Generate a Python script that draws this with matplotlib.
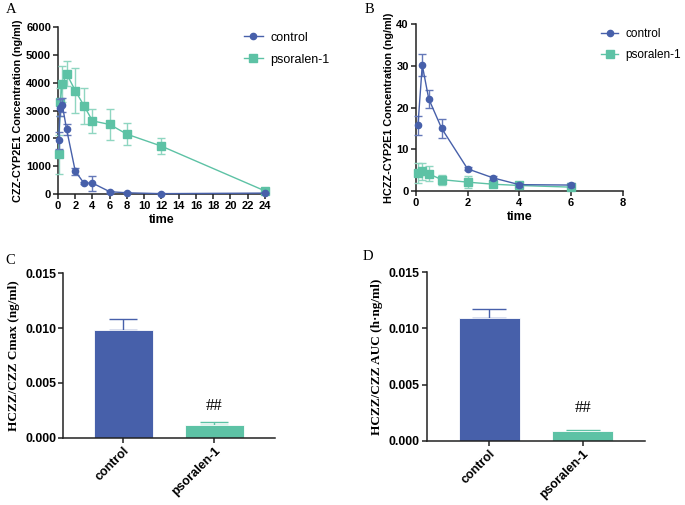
import numpy as np
import matplotlib
matplotlib.use("Agg")
import matplotlib.pyplot as plt
from matplotlib.lines import Line2D

plt.rcParams['font.family'] = ['Liberation Sans', 'DejaVu Sans']

blue = "#4760AA"
green = "#5DC2A5"

# panel A: CZZ concentration
a_time_ctrl = [0.083, 0.25, 0.5, 1, 2, 3, 4, 6, 8, 12, 24]
a_ctrl = [1930, 3100, 3200, 2320, 820, 390, 390, 80, 40, 10, 30]
a_ctrl_err = [300, 300, 250, 200, 130, 50, 270, 30, 20, 10, 10]
a_time_pso = [0.083, 0.25, 0.5, 1, 2, 3, 4, 6, 8, 12, 24]
a_pso = [1420, 3300, 3950, 4320, 3720, 3180, 2630, 2500, 2150, 1720, 110]
a_pso_err = [700, 500, 650, 450, 800, 650, 420, 550, 400, 300, 50]

# panel B: HCZZ concentration
b_time = [0.083, 0.25, 0.5, 1, 2, 3, 4, 6]
b_ctrl = [15.7, 30.2, 22.1, 15.0, 5.3, 3.1, 1.5, 1.4]
b_ctrl_err = [2.2, 2.6, 2.2, 2.2, 0.4, 0.4, 0.5, 0.4]
b_pso = [4.3, 4.7, 4.1, 2.7, 2.1, 1.6, 1.3, 0.9]
b_pso_err = [2.5, 2.0, 1.8, 1.2, 1.4, 0.5, 0.3, 0.3]

# panels C, D: ratios
groups = ["control", "psoralen-1"]
c_vals = [0.0098, 0.0012]
c_err = [0.0010, 0.0002]
d_vals = [0.0109, 0.0009]
d_err = [0.0008, 0.0001]

fig = plt.figure(figsize=(6.85, 5.05), dpi=100)
axA = fig.add_axes([0.0847, 0.616, 0.302, 0.330])
axB = fig.add_axes([0.607, 0.622, 0.302, 0.330])
axC = fig.add_axes([0.092, 0.133, 0.309, 0.326])
axD = fig.add_axes([0.623, 0.127, 0.319, 0.334])


def style(ax, size=8):
    for s in ("top", "right"):
        ax.spines[s].set_visible(False)
    for s in ("left", "bottom"):
        ax.spines[s].set_linewidth(1.1)
        ax.spines[s].set_color("#222222")
    ax.tick_params(direction="out", length=3.5, width=1.1, color="#222222", pad=1.5)
    for lab in ax.get_xticklabels() + ax.get_yticklabels():
        lab.set_fontsize(size)
        lab.set_fontweight("bold")


def curves(ax, t1, y1, e1, t2, y2, e2):
    ax.errorbar(t1, y1, yerr=e1, color=blue, marker="o", ms=4.5, lw=1.0,
                ecolor="#6478b8", elinewidth=1.0, capsize=3, clip_on=False, zorder=4)
    ax.errorbar(t2, y2, yerr=e2, color=green, marker="s", ms=5.5, lw=1.0,
                ecolor="#8fd6c1", elinewidth=1.0, capsize=3, clip_on=False, zorder=3)


def legend(ax, x, y, size):
    handles = [Line2D([], [], color=blue, marker="o", ms=4.5, lw=1.0),
               Line2D([], [], color=green, marker="s", ms=5.5, lw=1.0)]
    ax.legend(handles, groups, loc="upper left", bbox_to_anchor=(x, y),
              bbox_transform=fig.transFigure, frameon=False, fontsize=size,
              handlelength=1.5, handletextpad=0.6, labelspacing=0.8,
              borderaxespad=0, borderpad=0)


curves(axA, a_time_ctrl, a_ctrl, a_ctrl_err, a_time_pso, a_pso, a_pso_err)
axA.set_xlim(0, 24)
axA.set_ylim(0, 6000)
axA.set_xticks(np.arange(0, 25, 2))
axA.set_yticks(np.arange(0, 6001, 1000))
axA.set_xlabel("time", fontsize=9, fontweight="bold", labelpad=2)
axA.set_ylabel("CZZ-CYP2E1 Concentration (ng/ml)", fontsize=7.8, fontweight="bold", labelpad=2)
style(axA)
legend(axA, 0.356, 0.937, 9)

curves(axB, b_time, b_ctrl, b_ctrl_err, b_time, b_pso, b_pso_err)
axB.set_xlim(0, 8)
axB.set_ylim(0, 40)
axB.set_xticks([0, 2, 4, 6, 8])
axB.set_yticks([0, 10, 20, 30, 40])
axB.set_xlabel("time", fontsize=9, fontweight="bold", labelpad=2)
axB.set_ylabel("HCZZ-CYP2E1 Concentration (ng/ml)", fontsize=7.8, fontweight="bold", labelpad=2)
style(axB)
legend(axB, 0.877, 0.945, 8.5)


def bars(ax, vals, err, ylabel, cap, half):
    x = np.arange(len(groups))
    colors = [blue, green]
    ax.bar(x, vals, width=0.65, color=colors, edgecolor="white", linewidth=0.6, zorder=2)
    for xi, v, e, c in zip(x, vals, err, colors):
        ax.errorbar([xi], [v], yerr=[[0], [e]], color=c, elinewidth=1.0, capsize=cap,
                    capthick=1.0, zorder=1)
    ax.text(1, 0.0029, "##", ha="center", va="center", fontsize=12,
            family="Liberation Serif")
    ax.set_xlim(-half, 1 + half)
    ax.set_ylim(0, 0.015)
    ax.set_yticks([0, 0.005, 0.010, 0.015])
    ax.set_yticklabels(["0.000", "0.005", "0.010", "0.015"])
    ax.set_xticks(x)
    ax.set_xticklabels(groups, rotation=45, ha="right", va="top", rotation_mode="anchor")
    ax.set_ylabel(ylabel, fontsize=9.5, fontweight="bold", family="Liberation Serif", labelpad=4)
    style(ax, 8.8)
    for lab in ax.get_xticklabels():
        lab.set_fontsize(9)


bars(axC, c_vals, c_err, "HCZZ/CZZ Cmax (ng/ml)", 10, 0.66)
bars(axD, d_vals, d_err, "HCZZ/CZZ AUC (h\u00b7ng/ml)", 12, 0.67)

letter = dict(fontsize=10.5, family="Liberation Serif")
fig.text(0.008, 0.975, "A", **letter)
fig.text(0.532, 0.975, "B", **letter)
fig.text(0.008, 0.478, "C", **letter)
fig.text(0.530, 0.485, "D", **letter)

fig.savefig("out.png", dpi=100)
